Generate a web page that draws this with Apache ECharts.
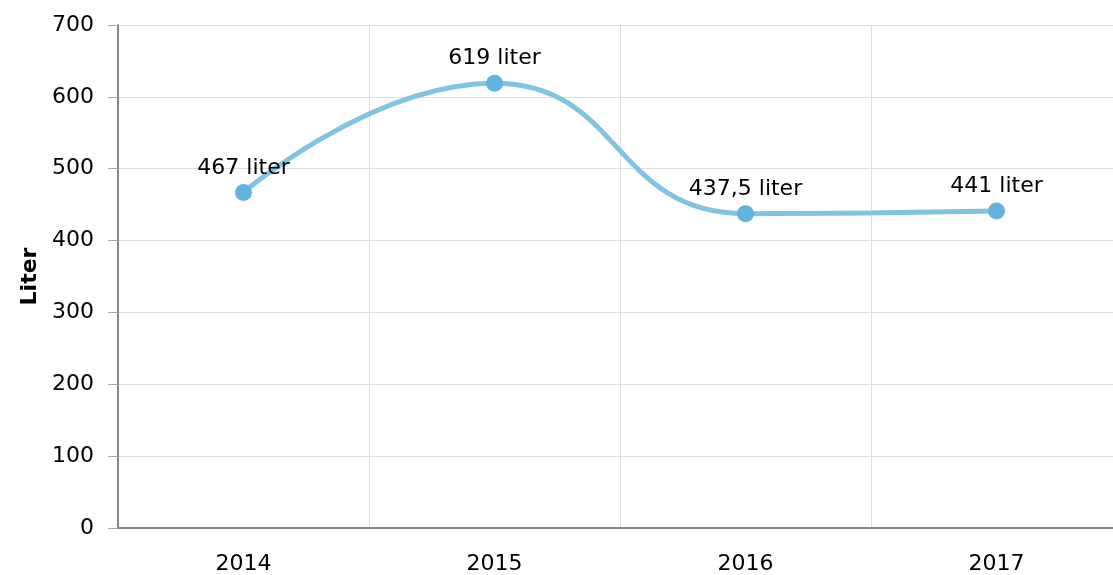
<!DOCTYPE html>
<html><head><meta charset="utf-8">
<script src="https://cdn.jsdelivr.net/npm/echarts@6/dist/echarts.min.js"></script>
<style>html,body{margin:0;padding:0;background:#fff}#c{width:1113px;height:575px}</style>
</head><body><div id="c"></div>
<script>
const categories = ['2014', '2015', '2016', '2017'];
const values = [467, 619, 437.5, 441];
const labels = ['467 liter', '619 liter', '437,5 liter', '441 liter'];
const yAxisName = 'Liter';

const chart = echarts.init(document.getElementById('c'), null, {renderer: 'canvas'});
const font = 'DejaVu Sans, Verdana, sans-serif';
chart.setOption({
  animation: false,
  textStyle: {fontFamily: font},
  grid: {left: 118, width: 1004, top: 25, bottom: 47, containLabel: false, outerBoundsMode: 'none'},
  xAxis: {
    type: 'category', data: categories, boundaryGap: true,
    axisLine: {lineStyle: {color: '#888', width: 2}},
    axisTick: {alignWithLabel: true, length: 9, lineStyle: {color: '#aaa', width: 1}},
    axisLabel: {color: '#000', fontSize: 22, fontFamily: font, margin: 25},
    splitLine: {show: true, lineStyle: {color: '#dedede', width: 1}}
  },
  yAxis: {
    type: 'value', min: 0, max: 700, interval: 100,
    name: yAxisName, nameLocation: 'middle', nameGap: 77, nameRotate: 90,
    nameTextStyle: {color: '#000', fontSize: 22, fontWeight: 'bold', fontFamily: font},
    axisLine: {show: true, lineStyle: {color: '#888', width: 2}},
    axisTick: {show: true, length: 10, lineStyle: {color: '#aaa', width: 1}},
    axisLabel: {color: '#000', fontSize: 22, fontFamily: font, margin: 24},
    splitLine: {show: true, lineStyle: {color: '#dedede', width: 1}}
  },
  series: [{
    type: 'line', data: values, smooth: 0.5,
    symbol: 'circle', symbolSize: 17,
    lineStyle: {color: '#80c3e3', width: 5},
    itemStyle: {color: '#62b4dc'},
    label: {show: true, position: 'top', distance: 5, color: '#000', fontSize: 22, fontFamily: font,
      formatter: p => labels[p.dataIndex]}
  }]
});
</script></body></html>
